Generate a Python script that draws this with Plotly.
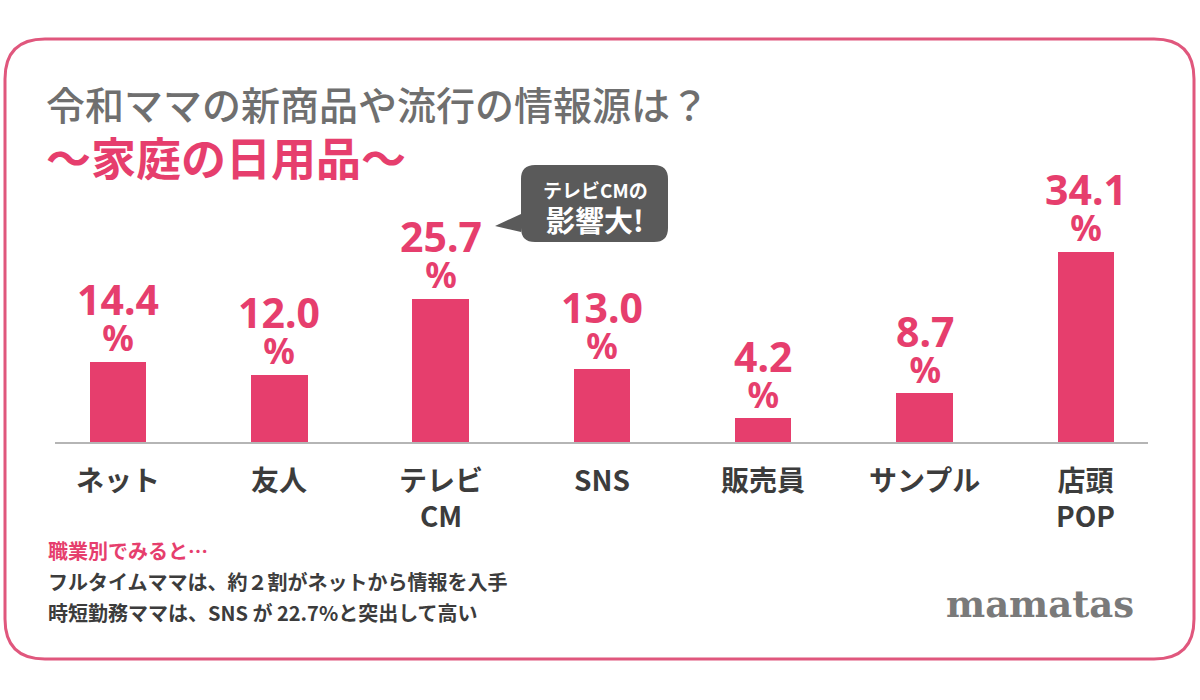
import plotly.graph_objects as go

W, H = 1200, 700

categories = ["ネット", "友人", "テレビ<br>CM", "SNS", "販売員", "サンプル", "店頭<br>POP"]
values = [14.4, 12.0, 25.7, 13.0, 4.2, 8.7, 34.1]
value_labels = ["14.4", "12.0", "25.7", "13.0", "4.2", "8.7", "34.1"]

title_1 = "令和ママの新商品や流行の情報源は？"
title_2 = "～家庭の日用品～"
note_head = "職業別でみると…"
note_lines = ["フルタイムママは、約２割がネットから情報を入手",
              "時短勤務ママは、SNS が 22.7%と突出して高い"]
callout = ["テレビCMの", "影響大!"]
logo = "mamatas"

PINK = "#E63E6D"
BORDER = "#E0577D"
GRAY = "#6f6f6f"
DARK = "#3c3c3c"
FONT = "Noto Sans CJK JP"
NUM_FONT = "Noto Sans, " + FONT


def px(x):
    return x / W


def py(y):
    return 1 - y / H


# plot area in pixels: baseline at y=442, 1 pct ~ 5.57 px
base_y = 442
pct_px = 5.57
y_max = 40
x_left, x_right = 55, 1148
c0, step = 118, 161.3

fig = go.Figure()
fig.add_trace(
    go.Bar(
        x=list(range(len(categories))),
        y=values,
        marker={"color": PINK, "line": {"width": 0}},
        width=0.35,
        hoverinfo="skip",
        showlegend=False,
    )
)

# value labels: number on top, % below, one text block each
for i, (v, lab) in enumerate(zip(values, value_labels)):
    txt = ("<span style='font-size:41px'><b>%s</b></span><br>"
           "<span style='font-size:35px'><b>%%</b></span>" % lab)
    fig.add_annotation(x=i, y=v, xref="x", yref="y", text=txt,
                       showarrow=False, yanchor="bottom", xanchor="center", yshift=-1,
                       font={"family": NUM_FONT, "size": 28, "color": PINK})

# category labels
for i, cat in enumerate(categories):
    fig.add_annotation(x=i, y=0, xref="x", yref="y", text="<b>%s</b>" % cat,
                       showarrow=False, yanchor="top", xanchor="center", yshift=-15,
                       font={"family": FONT, "size": 28, "color": DARK})

# frame
r = 40
x0, y0, x1, y1 = 5, 39, 1194, 659
frame = (
    f"M {px(x0 + r)} {py(y0)} L {px(x1 - r)} {py(y0)} "
    f"Q {px(x1)} {py(y0)} {px(x1)} {py(y0 + r)} "
    f"L {px(x1)} {py(y1 - r)} Q {px(x1)} {py(y1)} {px(x1 - r)} {py(y1)} "
    f"L {px(x0 + r)} {py(y1)} Q {px(x0)} {py(y1)} {px(x0)} {py(y1 - r)} "
    f"L {px(x0)} {py(y0 + r)} Q {px(x0)} {py(y0)} {px(x0 + r)} {py(y0)} Z"
)
fig.add_shape(type="path", path=frame, xref="paper", yref="paper",
              line={"color": BORDER, "width": 3}, fillcolor="rgba(0,0,0,0)", layer="below")

# callout bubble
r2 = 14
bx0, by0, bx1, by1 = 521, 165, 668, 242
bubble = (
    f"M {px(bx0 + r2)} {py(by0)} L {px(bx1 - r2)} {py(by0)} "
    f"Q {px(bx1)} {py(by0)} {px(bx1)} {py(by0 + r2)} "
    f"L {px(bx1)} {py(by1 - r2)} Q {px(bx1)} {py(by1)} {px(bx1 - r2)} {py(by1)} "
    f"L {px(bx0 + r2)} {py(by1)} Q {px(bx0)} {py(by1)} {px(bx0)} {py(by1 - r2)} "
    f"L {px(bx0)} {py(232)} L {px(495)} {py(226)} L {px(bx0)} {py(214)} "
    f"L {px(bx0)} {py(by0 + r2)} Q {px(bx0)} {py(by0)} {px(bx0 + r2)} {py(by0)} Z"
)
fig.add_shape(type="path", path=bubble, xref="paper", yref="paper",
              line={"width": 0}, fillcolor="#5a5a5a")
fig.add_annotation(x=px(595), y=py(189), xref="paper", yref="paper", text="<b>%s</b>" % callout[0],
                   showarrow=False, xanchor="center", yanchor="middle",
                   font={"family": FONT, "size": 19, "color": "white"})
fig.add_annotation(x=px(595), y=py(219), xref="paper", yref="paper", text="<b>%s</b>" % callout[1],
                   showarrow=False, xanchor="center", yanchor="middle",
                   font={"family": FONT, "size": 29, "color": "white"})

# titles
fig.add_annotation(x=px(44), y=py(103), xref="paper", yref="paper", text=title_1,
                   showarrow=False, xanchor="left", yanchor="middle",
                   font={"family": FONT, "size": 39, "color": GRAY, "weight": 500})
fig.add_annotation(x=px(44), y=py(156), xref="paper", yref="paper", text="<b>%s</b>" % title_2,
                   showarrow=False, xanchor="left", yanchor="middle",
                   font={"family": FONT, "size": 45, "color": PINK})

# notes
fig.add_annotation(x=px(46), y=py(550), xref="paper", yref="paper", text="<b>%s</b>" % note_head,
                   showarrow=False, xanchor="left", yanchor="middle",
                   font={"family": FONT, "size": 20, "color": PINK})
for k, line in enumerate(note_lines):
    fig.add_annotation(x=px(46), y=py(581 + 31 * k), xref="paper", yref="paper",
                       text="<b>%s</b>" % line, showarrow=False, xanchor="left",
                       yanchor="middle", font={"family": FONT, "size": 20, "color": DARK})

fig.add_annotation(x=px(1040), y=py(604), xref="paper", yref="paper", text="<b>%s</b>" % logo,
                   showarrow=False, xanchor="center", yanchor="middle",
                   font={"family": "DejaVu Serif", "size": 37, "color": "#7a7a7a"})

fig.update_xaxes(
    domain=[px(x_left), px(x_right)],
    range=[(x_left - c0) / step, (x_right - c0) / step],
    showticklabels=False, showgrid=False, zeroline=False,
    showline=True, linecolor="#b5b5b5", linewidth=2, fixedrange=True,
)
fig.update_yaxes(
    domain=[py(base_y), py(base_y - y_max * pct_px)],
    range=[0, y_max], visible=False, fixedrange=True,
)
fig.update_layout(
    width=W, height=H, margin={"l": 0, "r": 0, "t": 0, "b": 0},
    paper_bgcolor="white", plot_bgcolor="white", bargap=0,
)
fig.write_html("out.html", config={"displayModeBar": False},
               post_script="document.body.style.margin='0px';")
